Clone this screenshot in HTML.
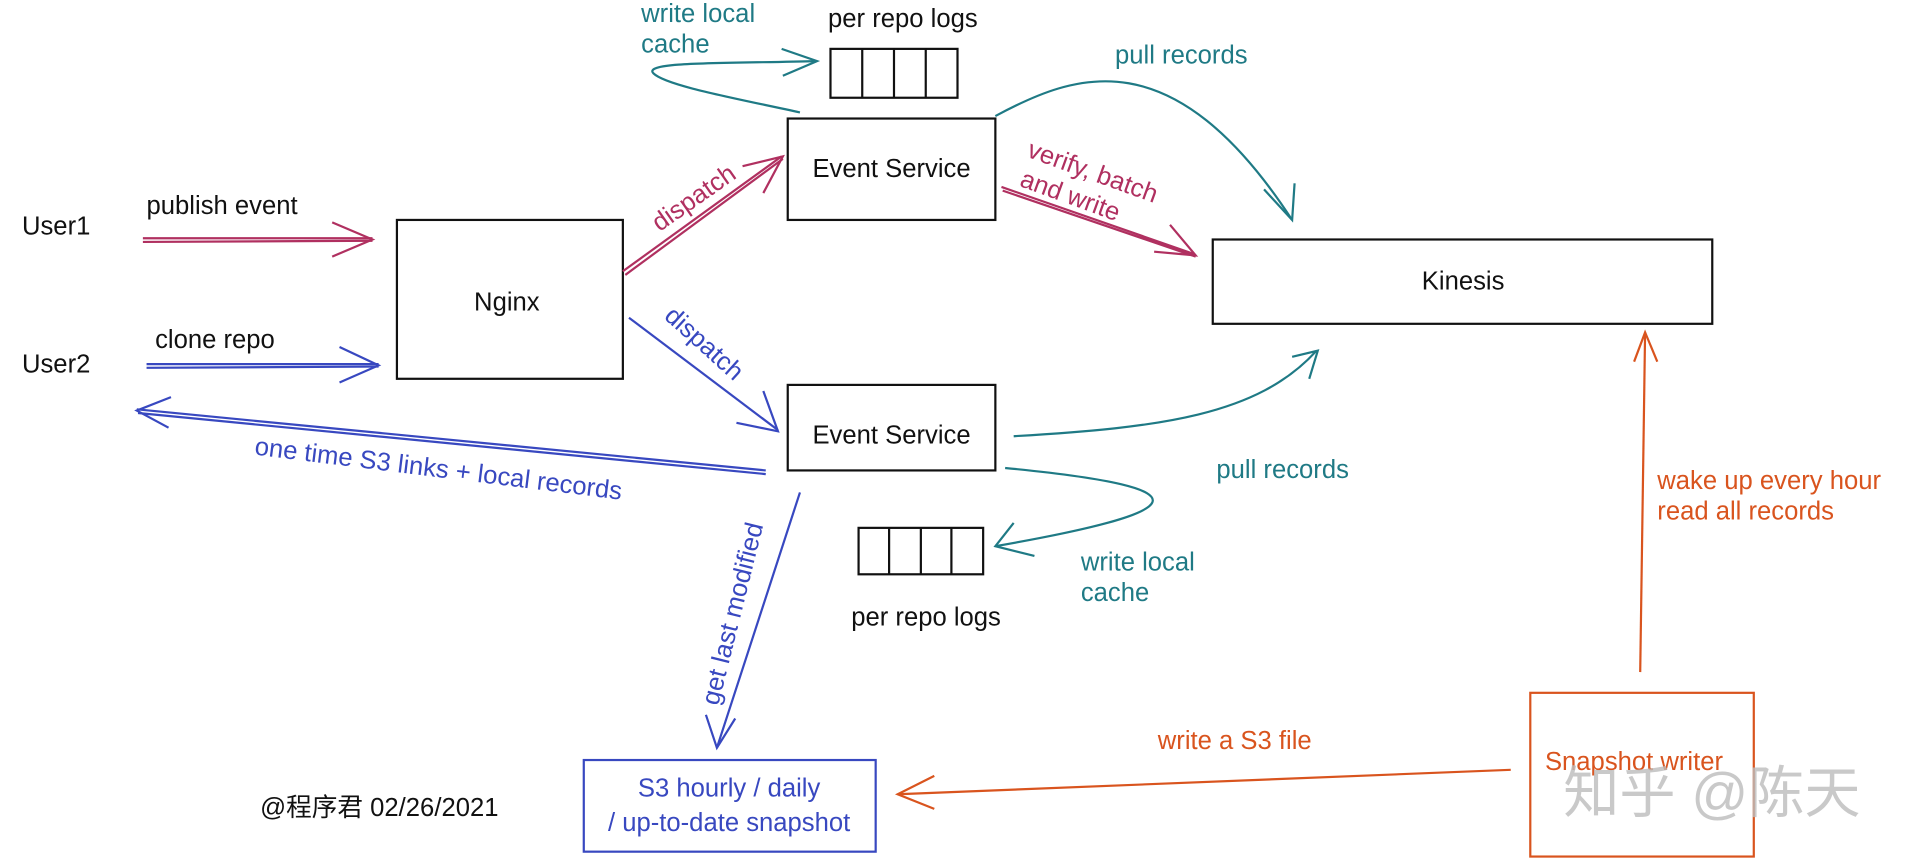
<!DOCTYPE html>
<html><head><meta charset="utf-8"><style>
html,body{margin:0;padding:0;background:#fff;}
svg{display:block}
text{font-family:"Liberation Sans","Noto Sans CJK SC",sans-serif;font-size:21px}
</style></head><body>
<svg width="1915" height="859" viewBox="0 0 1568 703" preserveAspectRatio="none" xmlns="http://www.w3.org/2000/svg">
<g fill="none" stroke="#111" stroke-width="1.8">
<rect x="325" y="180" width="185" height="130"/>
<rect x="645" y="97" width="170" height="83"/>
<rect x="645" y="315" width="170" height="70"/>
<rect x="993" y="196" width="409" height="69"/>
<rect x="680" y="40" width="104" height="40"/>
<line x1="706" y1="40" x2="706" y2="80"/><line x1="732" y1="40" x2="732" y2="80"/><line x1="758" y1="40" x2="758" y2="80"/>
<rect x="703" y="432" width="102" height="38"/>
<line x1="728" y1="432" x2="728" y2="470"/><line x1="754" y1="432" x2="754" y2="470"/><line x1="779" y1="432" x2="779" y2="470"/>
</g>
<rect x="478" y="622" width="239" height="75" fill="none" stroke="#3848c0" stroke-width="1.8"/>
<rect x="1253" y="567" width="183" height="134" fill="none" stroke="#d9541e" stroke-width="1.8"/>
<g fill="none" stroke="#b03060" stroke-width="1.8">
<path d="M117 195 L305 195 M117 198 L305 197"/><path d="M272 182 L305 196 L272 210"/>
<path d="M510 222 L640 128 M512 225 L641 130"/><path d="M608 136 L641 128 L625 158"/>
<path d="M820 153 L978 208 M821 156 L979 210"/><path d="M958 184 L979 209 L945 206"/>
</g>
<g fill="none" stroke="#3848c0" stroke-width="1.8">
<path d="M120 298 L310 298 M120 301 L310 300"/><path d="M278 284 L310 299 L278 313"/>
<path d="M515 260 L637 352"/><path d="M603 346 L637 353 L625 320"/>
<path d="M627 385 L112 335 M627 388 L113 338"/><path d="M140 325 L112 336 L138 350"/>
<path d="M655 403 L587 612"/><path d="M578 585 L587 612 L602 588"/>
</g>
<g fill="none" stroke="#1f7a85" stroke-width="1.8">
<path d="M655 92 C600 80 545 70 535 60 C525 50 600 52 668 50"/><path d="M640 40 L669 50 L641 62"/>
<path d="M815 95 C880 60 960 30 1058 180"/><path d="M1035 155 L1058 180 L1060 150"/>
<path d="M830 357 C950 350 1030 340 1078 287"/><path d="M1058 292 L1079 287 L1072 310"/>
<path d="M823 383 C1000 400 970 420 815 447"/><path d="M830 428 L815 447 L847 455"/>
</g>
<g fill="none" stroke="#d9541e" stroke-width="1.8">
<path d="M1343 550 L1347 272"/><path d="M1338 296 L1347 272 L1357 296"/>
<path d="M1237 630 L735 650"/><path d="M765 635 L735 650 L765 662"/>
</g>
<g fill="#111">
<text x="18" y="192">User1</text><text x="18" y="305">User2</text>
<text x="120" y="175">publish event</text><text x="127" y="285">clone repo</text>
<text x="415" y="254" text-anchor="middle">Nginx</text>
<text x="730" y="145" text-anchor="middle">Event Service</text>
<text x="730" y="363" text-anchor="middle">Event Service</text>
<text x="1198" y="237" text-anchor="middle">Kinesis</text>
<text x="678" y="22">per repo logs</text>
<text x="697" y="512">per repo logs</text>
<text x="213" y="668">@程序君 02/26/2021</text>
</g>
<g fill="#1f7a85">
<text x="525" y="18">write local</text><text x="525" y="43">cache</text>
<text x="913" y="52">pull records</text><text x="996" y="391">pull records</text>
<text x="885" y="467">write local</text><text x="885" y="492">cache</text>
</g>
<g fill="#b03060">
<text transform="translate(540,190) rotate(-35)">dispatch</text>
<text transform="translate(840,128) rotate(20)">verify, batch</text>
<text transform="translate(834,152) rotate(20)">and write</text>
</g>
<g fill="#3848c0">
<text transform="translate(543,260) rotate(42)">dispatch</text>
<text transform="translate(208,372) rotate(7)">one time S3 links + local records</text>
<text transform="translate(588,578) rotate(-76)">get last modified</text>
<text x="597" y="652" text-anchor="middle">S3 hourly / daily</text>
<text x="597" y="680" text-anchor="middle">/ up-to-date snapshot</text>
</g>
<g fill="#d9541e">
<text x="948" y="613">write a S3 file</text>
<text x="1357" y="400">wake up every hour</text><text x="1357" y="425">read all records</text>
<text x="1265" y="630">Snapshot writer</text>
</g>
<text x="1280" y="665" fill="#bbb" fill-opacity="0.8" style="font-size:46px">知乎 @陈天</text>
</svg>
</body></html>
